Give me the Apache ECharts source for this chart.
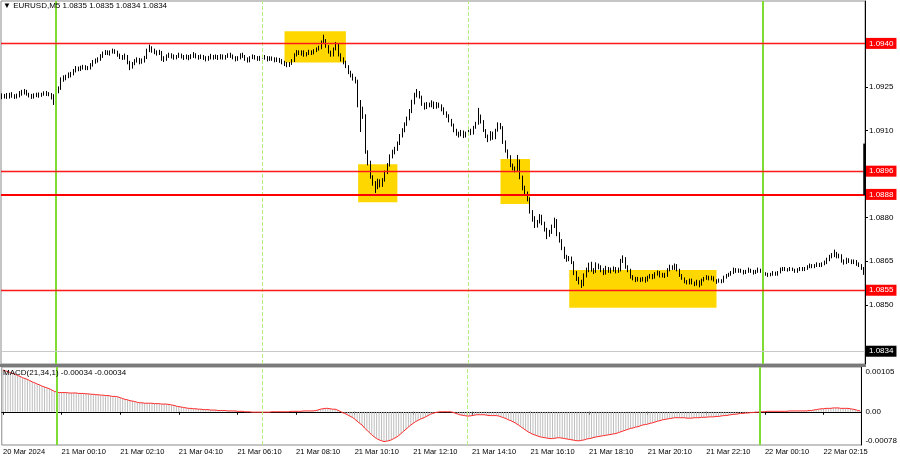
<!DOCTYPE html>
<html><head><meta charset="utf-8">
<script src="https://cdn.jsdelivr.net/npm/echarts@6/dist/echarts.min.js"></script>
<style>html,body{margin:0;padding:0;background:#fff}#c{width:900px;height:460px}</style>
</head><body><div id="c"></div>
<script>
const symbolTitle = '\u25BC EURUSD,M5 1.0835 1.0835 1.0834 1.0834';
const macdTitle = 'MACD(21,34,1) -0.00034 -0.00034';
const firstOpen = 1.0922;
const closes = [
1.09215,1.0922,1.09215,1.09225,1.0922,1.09215,1.0922,1.09225,1.0923,1.09235,1.09225,1.0922,1.09215,1.0922,1.09225,1.0922,1.09225,1.0923,1.09225,1.09225,1.09215,1.09205,
1.09235,1.09245,1.09275,1.0928,1.09285,1.0929,1.09295,1.09305,
1.09315,1.0931,1.09315,1.0932,1.09315,1.09315,1.09325,
1.09335,1.0934,1.09345,1.09355,
1.09365,1.0937,1.09365,1.0937,1.09375,1.0937,
1.0936,1.09355,1.0935,1.09355,
1.09335,1.0932,1.0933,1.0934,
1.09345,1.09335,1.0934,1.0935,
1.09375,1.09385,
1.09375,1.0937,1.09365,1.0937,
1.0935,1.09345,
1.09355,1.0936,1.09355,1.0935,1.09355,1.0936,1.09355,1.0935,1.09355,1.0935,1.09355,1.0936,1.09355,1.0935,1.09355,1.0935,1.09345,1.0935,1.09355,1.0935,1.09355,1.0935,1.09355,
1.0935,1.09355,1.0936,1.09355,1.0935,1.09345,1.0935,1.0936,1.09355,1.09345,1.0934,1.0935,1.09355,1.0935,1.09345,1.0935,1.09355,1.0935,1.09345,1.0935,1.09345,1.0934,1.09345,1.0934,1.09335,
1.0933,1.09325,1.0933,1.0934,
1.0936,1.0937,1.09365,1.0937,1.0936,1.09365,1.0937,1.09365,1.09375,1.0938,1.09385,1.09405,1.0941,1.0939,1.0937,1.0936,1.0938,1.09395,1.0936,1.09345,1.09335,1.0932,
1.093,1.0929,1.0928,1.0927,
1.0919,1.09175,1.0915,1.09025,1.0899,1.0894,1.0892,1.089,1.08925,1.0891,1.0893,1.08955,1.0898,1.0901,1.09025,1.09035,1.09055,1.0908,1.091,1.0912,1.0914,1.09165,1.09195,
1.0922,1.0923,1.09215,1.0919,1.0918,1.0919,1.09185,1.09195,1.0918,1.0919,1.09185,1.09175,1.0916,1.0915,1.09135,1.0912,
1.091,1.0909,1.09085,1.09095,1.0908,1.0909,1.091,1.0909,1.0911,1.09125,1.0915,1.0913,1.091,1.0908,1.0907,1.0909,1.09075,1.091,1.0912,1.0911,
1.0906,1.0903,1.0901,1.0898,1.0897,1.08965,1.08995,1.0894,1.089,1.08885,1.08865,1.0882,1.088,1.0877,1.08785,1.08805,1.0878,1.0876,1.0874,1.0875,1.0877,1.0879,1.08745,
1.0872,1.08695,1.08665,1.08655,1.0866,1.08645,1.0861,1.0859,1.0858,1.0857,1.086,
1.0862,1.08635,1.0862,1.08615,1.08635,1.0863,1.0862,1.0861,1.08625,1.08615,1.0862,1.08625,1.08615,1.0862,1.0865,1.0866,1.0863,1.0862,
1.08595,1.0859,1.08585,1.0859,1.08585,1.0859,1.08585,1.08595,1.086,1.08595,1.08605,1.0861,1.086,1.08605,1.086,
1.0862,1.0863,1.08625,1.08635,1.0862,1.086,1.0859,1.0858,1.08575,1.08585,1.08575,1.0857,1.0858,1.0857,1.08585,1.0859,1.08595,1.0859,1.08595,1.08585,1.0858,1.08585,1.0858,1.08595,1.086,1.08605,1.0861,
1.0862,1.08615,1.0862,1.08615,1.0861,1.08615,1.0862,1.08615,1.0861,1.08615,1.0862,1.08615,1.08605,1.08605,1.086,1.08605,1.0861,1.08605,1.0861,
1.0862,1.08625,1.0862,1.0862,1.08625,1.0862,1.08615,1.0862,1.08625,1.0862,1.08625,1.0863,1.08635,1.0863,1.08635,1.0864,1.08635,1.0864,1.08645,
1.08655,1.08665,1.0867,1.08675,1.08665,1.0867,1.0865,1.08645,1.08655,1.0865,1.08645,1.0865,1.0864,1.08635,1.08625,1.0861
];
const highs = [
1.09228,1.09226,1.09229,1.0923,1.09232,1.09225,1.09227,1.09236,1.0924,1.09243,1.0924,1.0923,1.09226,1.09228,1.0923,1.09231,1.0923,1.09235,1.09236,1.09232,1.09229,1.09225,
1.09242,1.09252,1.09283,1.0929,1.09292,1.093,1.09302,1.09312,
1.09322,1.0932,1.09323,1.09326,1.09325,1.09322,1.09332,
1.09343,1.09348,1.09352,1.09363,
1.09372,1.09377,1.09376,1.09376,1.09382,1.0938,
1.09375,1.09365,1.0936,1.09365,
1.0936,1.0934,1.09336,1.09346,
1.09352,1.0935,1.09348,1.09357,
1.09382,1.09396,
1.0939,1.09382,1.09376,1.09378,
1.09374,1.09356,
1.09362,1.09368,1.09366,1.09362,1.0936,1.09368,1.09365,1.0936,1.09362,1.0936,1.09363,1.0937,1.09366,1.0936,1.09362,1.0936,1.09356,1.09357,1.09364,1.0936,1.09362,1.0936,1.09363,
1.09362,1.0936,1.09366,1.09368,1.09362,1.09356,1.09356,1.09366,1.09368,1.0936,1.09352,1.09356,1.09362,1.0936,1.09356,1.09357,1.09362,1.0936,1.09356,1.09356,1.09355,1.09352,1.09352,1.0935,1.09346,
1.0934,1.09336,1.09336,1.09346,
1.09366,1.09377,1.09376,1.09376,1.09376,1.0937,1.09378,1.09376,1.0938,1.09386,1.09392,1.0941,1.0943,1.09415,1.09394,1.09375,1.09386,1.09405,1.094,1.09366,1.09352,1.0934,
1.09325,1.09306,1.09296,1.09285,
1.09275,1.09205,1.09182,1.09156,1.09032,1.08996,1.08946,1.08926,1.08934,1.08932,1.08936,1.08962,1.08988,1.09018,1.09034,1.09044,1.09062,1.09088,1.09108,1.09128,1.09148,1.09174,1.09206,
1.0923,1.09243,1.09236,1.0922,1.09196,1.09198,1.09196,1.09204,1.092,1.09198,1.09196,1.0919,1.0918,1.09166,1.09156,1.0914,
1.09124,1.09106,1.09096,1.09102,1.091,1.09096,1.09108,1.09106,1.09116,1.0913,1.09178,1.09155,1.09136,1.09105,1.09086,1.09098,1.09096,1.09106,1.09128,1.09126,
1.09115,1.09066,1.09035,1.09015,1.08986,1.08976,1.09016,1.09,1.08945,1.0891,1.0889,1.0887,1.08826,1.08805,1.08792,1.08812,1.0881,1.08786,1.08765,1.08758,1.08776,1.088,1.08795,
1.0875,1.08726,1.087,1.08672,1.08668,1.08666,1.0865,1.08616,1.08596,1.08586,1.08608,
1.08628,1.08645,1.08648,1.08626,1.08646,1.08642,1.08636,1.08626,1.08634,1.0863,1.08628,1.08632,1.0863,1.08628,1.08658,1.0867,1.08664,1.08636,
1.08624,1.08602,1.08596,1.08596,1.08594,1.08596,1.08596,1.086,1.08606,1.08606,1.08612,1.08618,1.08616,1.0861,1.0861,
1.08626,1.08638,1.08636,1.08642,1.0864,1.08624,1.08606,1.08594,1.08585,1.0859,1.0859,1.0858,1.08586,1.08584,1.0859,1.08596,1.08602,1.086,1.086,1.08598,1.08588,1.0859,1.08588,1.086,1.08606,1.0861,1.08616,
1.08628,1.08626,1.08625,1.08624,1.0862,1.0862,1.08628,1.08624,1.0862,1.0862,1.08628,1.08624,1.0862,1.08612,1.0861,1.0861,1.08616,1.08614,1.08616,
1.08628,1.0863,1.0863,1.08626,1.0863,1.08628,1.08624,1.08626,1.0863,1.0863,1.0863,1.08636,1.08642,1.0864,1.0864,1.08646,1.08644,1.08646,1.08652,
1.08662,1.08672,1.08678,1.0869,1.08682,1.08676,1.08674,1.08656,1.08662,1.0866,1.08656,1.08656,1.08654,1.08646,1.0864,1.0863
];
const lows = [
1.09208,1.0921,1.09209,1.0921,1.09213,1.09209,1.0921,1.09214,1.0922,1.09224,1.0922,1.09214,1.09209,1.0921,1.09215,1.09213,1.09216,1.0922,1.09219,1.09218,1.09207,1.09188,
1.092,1.09228,1.0924,1.09268,1.09273,1.0928,1.09283,1.0929,
1.093,1.09304,1.09305,1.0931,1.09308,1.09308,1.0931,
1.0932,1.0933,1.09334,1.0934,
1.0935,1.0936,1.0936,1.09358,1.09365,1.09364,
1.09354,1.09346,1.09343,1.09344,
1.09328,1.09308,1.09313,1.09325,
1.09334,1.09328,1.0933,1.09334,
1.09346,1.0937,
1.09368,1.09363,1.09358,1.0936,
1.0934,1.09336,
1.0934,1.0935,1.09348,1.09344,1.09345,1.0935,1.09348,1.09343,1.09345,1.09342,1.09346,1.0935,1.09348,1.09344,1.09346,1.09343,1.09338,1.0934,1.09345,1.09344,1.09346,1.09343,1.09345,
1.09344,1.09344,1.0935,1.0935,1.09345,1.09338,1.0934,1.09345,1.0935,1.0934,1.09334,1.09335,1.09346,1.09344,1.0934,1.0934,1.09348,1.09344,1.09338,1.0934,1.0934,1.09335,1.09336,1.09333,1.09328,
1.09322,1.09318,1.09319,1.09326,
1.09336,1.09355,1.0936,1.09358,1.09354,1.09355,1.0936,1.0936,1.09362,1.0937,1.09375,1.0938,1.09398,1.09385,1.09365,1.09354,1.09355,1.09376,1.09355,1.09338,1.09328,1.09315,
1.09294,1.09283,1.09272,1.09262,
1.0918,1.09095,1.0914,1.0902,1.0898,1.08934,1.0891,1.08885,1.08898,1.08904,1.08906,1.08924,1.0895,1.08976,1.09004,1.09018,1.0903,1.0905,1.09076,1.09094,1.09116,1.09135,1.0916,
1.0919,1.09214,1.0921,1.09185,1.09172,1.09174,1.0918,1.0918,1.09174,1.09175,1.09178,1.09166,1.09154,1.09144,1.09128,1.09114,
1.09094,1.09082,1.09076,1.0908,1.09074,1.09076,1.09085,1.09084,1.09086,1.09106,1.0912,1.09124,1.09095,1.09074,1.0906,1.09065,1.09068,1.0907,1.09096,1.09104,
1.09054,1.09024,1.09003,1.08974,1.08963,1.08956,1.0896,1.08932,1.08894,1.08878,1.08856,1.08814,1.08786,1.08764,1.08766,1.0878,1.08774,1.08752,1.08726,1.08734,1.08744,1.08764,1.08736,
1.08714,1.08688,1.08658,1.08648,1.0865,1.0864,1.08602,1.08582,1.0857,1.08558,1.08564,
1.08594,1.08612,1.08614,1.08606,1.0861,1.08622,1.08612,1.08602,1.08604,1.0861,1.08608,1.08614,1.08608,1.0861,1.08615,1.08644,1.08624,1.08612,
1.0859,1.08584,1.08578,1.0858,1.08578,1.0858,1.08576,1.0858,1.0859,1.08588,1.0859,1.086,1.08594,1.08594,1.08592,
1.08596,1.08615,1.0862,1.0862,1.08615,1.08596,1.08586,1.08574,1.0857,1.0857,1.0857,1.08564,1.08566,1.0856,1.08566,1.0858,1.08586,1.08584,1.08584,1.0858,1.08572,1.08576,1.08574,1.08576,1.0859,1.08596,1.086,
1.08606,1.0861,1.0861,1.0861,1.08604,1.08606,1.0861,1.0861,1.08604,1.08606,1.0861,1.0861,1.086,1.086,1.08596,1.08598,1.086,1.086,1.086,
1.08608,1.08616,1.08616,1.08614,1.08616,1.08616,1.0861,1.0861,1.08616,1.08616,1.08616,1.0862,1.08626,1.08626,1.08626,1.0863,1.0863,1.0863,1.08636,
1.0864,1.0865,1.0866,1.08664,1.0866,1.0866,1.08645,1.08638,1.0864,1.08644,1.0864,1.0864,1.08634,1.0863,1.0862,1.08603
];
const macd = [
0.00098,0.00096,0.00094,0.00092,0.0009,0.00088,0.00085,0.00083,0.0008,0.00078,0.00076,0.00073,0.0007,0.00068,0.00065,0.00063,0.0006,0.00058,0.00056,0.00054,0.00051,0.00048,0.00046,
0.00045,0.00045,0.00045,0.00045,0.00044,0.00044,0.00044,0.00044,0.00043,0.00043,0.00043,
0.00042,0.00042,0.00041,0.00041,0.0004,0.0004,0.00039,0.00039,0.00038,0.00038,0.00037,0.00036,0.00036,0.00035,
0.00033,0.00031,0.00029,0.00028,0.00026,0.00025,0.00024,0.00022,0.00021,
0.00021,0.0002,0.0002,0.0002,0.0002,0.00019,0.00019,0.00019,0.00018,0.00018,0.00018,
0.00017,0.00016,0.00015,0.00013,0.00012,0.00011,0.0001,0.00009,0.00008,
0.00008,0.00007,0.00007,0.00006,0.00006,0.00005,0.00005,0.00005,0.00004,0.00004,0.00004,0.00003,0.00003,0.00003,0.00003,0.00002,0.00002,0.00002,
0.00002,0.00001,0.00001,0.00001,0,0,0,-0.00001,-0.00001,-0.00001,-0.00001,
-0.00001,-0.00001,-0.00001,-0.00001,0,0,0,0,0,0,0,
0,0.00001,0.00001,0.00001,0.00001,0.00001,0.00002,0.00002,0.00002,0.00002,0.00002,
0.00003,0.00004,0.00006,0.00007,0.00008,
0.00008,0.00007,0.00006,0.00006,0.00004,0.00001,
-0.00002,-0.00004,-0.00007,-0.0001,-0.00013,-0.00017,-0.00022,-0.00027,
-0.00031,-0.00038,-0.00043,-0.00049,-0.00054,-0.00059,-0.00063,-0.00066,-0.00068,-0.0007,
-0.00069,-0.00068,-0.00066,-0.00063,-0.0006,-0.00056,
-0.00051,-0.00046,-0.00041,-0.00036,-0.00031,-0.00027,
-0.00023,-0.0002,-0.00017,-0.00015,-0.00012,-0.00009,-0.00006,-0.00004,-0.00002,
-0.00001,0,0,0,0,0,
-0.00001,-0.00003,-0.00005,-0.00007,-0.00008,-0.00009,-0.0001,
-0.0001,-0.00009,-0.00008,-0.00007,-0.00007,-0.00007,-0.00007,-0.00008,-0.00009,-0.00009,-0.00009,-0.00009,-0.0001,
-0.00012,-0.00014,-0.00016,-0.00019,-0.00021,-0.00024,-0.00027,
-0.00031,-0.00035,-0.00039,-0.00043,-0.00047,-0.0005,-0.00053,
-0.00055,-0.00057,-0.00059,-0.0006,-0.00061,-0.00062,-0.00063,
-0.00063,-0.00062,-0.00061,-0.00061,-0.00062,-0.00063,-0.00064,-0.00065,-0.00066,-0.00067,-0.00068,-0.00068,
-0.00067,-0.00066,-0.00064,-0.00063,-0.00062,-0.0006,-0.00059,
-0.00058,-0.00057,-0.00056,-0.00055,-0.00054,-0.00053,-0.00052,-0.00051,
-0.00049,-0.00047,-0.00045,-0.00043,-0.00041,-0.00039,-0.00038,
-0.00036,-0.00035,-0.00033,-0.00031,-0.0003,-0.00029,-0.00027,
-0.00026,-0.00024,-0.00022,-0.00021,-0.00019,-0.00018,-0.00017,-0.00016,-0.00015,-0.00014,
-0.00014,-0.00014,-0.00014,-0.00014,-0.00015,-0.00015,-0.00015,-0.00014,-0.00014,-0.00014,
-0.00013,-0.00013,-0.00013,-0.00012,-0.00012,-0.00012,-0.00011,-0.00011,-0.0001,
-0.00009,-0.00009,-0.00008,-0.00007,-0.00006,-0.00006,-0.00005,-0.00004,
-0.00004,-0.00003,-0.00003,-0.00002,-0.00002,-0.00001,-0.00001,0,
0,0,0.00001,0.00001,0.00001,0.00001,0.00001,0.00001,0.00001,0.00001,0.00001,0.00002,0.00002,0.00002,0.00002,0.00002,0.00002,0.00002,0.00002,
0.00003,0.00003,0.00004,0.00005,0.00006,0.00007,0.00007,0.00008,
0.00008,0.00008,0.00009,0.00009,0.00009,0.00008,0.00008,0.00008,0.00008,0.00007,0.00006,0.00005,0.00003,0.00002
];
const timeLabels = ['20 Mar 2024','21 Mar 00:10','21 Mar 02:10','21 Mar 04:10','21 Mar 06:10','21 Mar 08:10','21 Mar 10:10','21 Mar 12:10','21 Mar 14:10','21 Mar 16:10','21 Mar 18:10','21 Mar 20:10','21 Mar 22:10','22 Mar 00:10','22 Mar 02:15'];
const barsPerLabel = 24;
const priceTicks = [1.0940,1.0925,1.0910,1.0895,1.0880,1.0865,1.0850,1.0835];
const macdTicks = [0.00105, 0, -0.00078];
const levels = [1.0940, 1.0896, 1.0855];
const keyLevel = 1.0888;
const bidPrice = 1.0834;
// [first bar, last bar, top price, bottom price]
const zones = [[115,140,1.09442,1.09334],[145,161,1.08984,1.08853],[203,215,1.09002,1.08847],[231,291,1.0862,1.0849]];
const daySeparators = [22, 310];
const sessionMarks = [106, 190];
// partly drawn bar at the right border: [bar, top price, bottom price]
const edgeBar = [351, 1.09055, 1.08878];

const FONT = '"Liberation Sans", Arial, sans-serif';
const cats = closes.map((_, i) => String(i));
const candles = closes.map((c, i) => [i ? closes[i - 1] : firstOpen, c, lows[i], highs[i]]);
const showLabel = (i) => i % barsPerLabel === 0;

const priceLabel = (bg) => ({
  show: true, position: 'end', distance: 1,
  formatter: (p) => Number(p.value).toFixed(4),
  backgroundColor: bg, color: '#fff', fontSize: 8, fontFamily: FONT,
  padding: [2, 3, 1, 3]
});
const vLines = () => daySeparators.map(k => ({ xAxis: k, lineStyle: { color: '#7fdc35', width: 2, type: 'solid' } }))
  .concat(sessionMarks.map(k => ({ xAxis: k, lineStyle: { color: '#b6ee80', width: 1, type: [4, 2] } })));
const levelLines = levels.map(v => ({ yAxis: v, lineStyle: { color: '#ff1a1a', width: 1.3, type: 'solid' }, label: priceLabel('#ff0000') }))
  .concat([{ yAxis: keyLevel, lineStyle: { color: '#ff0000', width: 2, type: 'solid' }, label: priceLabel('#ff0000') },
           { yAxis: bidPrice, lineStyle: { color: '#c8c8c8', width: 1, type: 'solid' }, label: priceLabel('#000000') },
           [{ coord: [cats[edgeBar[0]], edgeBar[1]], lineStyle: { color: '#000', width: 2.5, type: 'solid' }, label: { show: false } },
            { coord: [cats[edgeBar[0]], edgeBar[2]] }]]);

const chart = echarts.init(document.getElementById('c'), null, { renderer: 'canvas' });
chart.setOption({
  animation: false,
  backgroundColor: '#ffffff',
  textStyle: { fontFamily: FONT },
  title: [
    { text: symbolTitle, left: 3, top: 2, padding: 0, textStyle: { fontSize: 8, fontWeight: 'normal', color: '#000', fontFamily: FONT } },
    { text: macdTitle, left: 3, top: 369, padding: 0, textStyle: { fontSize: 8, fontWeight: 'normal', color: '#000', fontFamily: FONT } }
  ],
  graphic: [
    { type: 'rect', shape: { x: 0, y: 364, width: 866, height: 3 }, style: { fill: '#7a7a7a' }, z: 10 }
  ],
  grid: [
    { left: 1, right: 35, top: 1, height: 363, show: true, borderColor: '#8a8a8a', borderWidth: 1 },
    { left: 1, right: 35, top: 367, bottom: 15, show: true, borderColor: '#8a8a8a', borderWidth: 1 }
  ],
  xAxis: [
    { type: 'category', gridIndex: 0, data: cats, boundaryGap: true,
      axisLine: { show: false }, axisTick: { show: false }, axisLabel: { show: false }, splitLine: { show: false } },
    { type: 'category', gridIndex: 1, data: cats, boundaryGap: true,
      axisLine: { show: true, lineStyle: { color: '#000' } },
      axisTick: { show: true, alignWithLabel: true, interval: showLabel, length: 3, lineStyle: { color: '#000' } },
      axisLabel: { interval: showLabel, formatter: (v, i) => timeLabels[i / barsPerLabel], align: 'left',
        fontSize: 7.5, color: '#000', margin: 3, fontFamily: FONT },
      splitLine: { show: false } }
  ],
  yAxis: [
    { type: 'value', gridIndex: 0, position: 'right', min: 1.08296, max: 1.09546,
      axisLine: { show: true, lineStyle: { color: '#000' } },
      axisTick: { show: true, customValues: priceTicks, length: 3, lineStyle: { color: '#000' } },
      axisLabel: { customValues: priceTicks, formatter: (v) => v.toFixed(4), color: '#000', fontSize: 8, margin: 4,
        padding: [5, 0, 0, 0], fontFamily: FONT },
      splitLine: { show: false } },
    { type: 'value', gridIndex: 1, position: 'right', min: -0.00078, max: 0.00105,
      axisLine: { show: true, lineStyle: { color: '#000' } },
      axisTick: { show: false },
      axisLabel: { customValues: macdTicks, margin: 4, fontSize: 8, color: '#000', fontFamily: FONT,
        formatter: (v) => v === 0 ? '0.00' : (v > 0 ? '{t|' + v.toFixed(5) + '}' : '{b|' + v.toFixed(5) + '}'),
        rich: { t: { padding: [10, 0, 0, 0], fontSize: 8, color: '#000', fontFamily: FONT },
                b: { padding: [0, 0, 9, 0], fontSize: 8, color: '#000', fontFamily: FONT } } },
      splitLine: { show: false } }
  ],
  series: [
    { name: 'zones', type: 'line', xAxisIndex: 0, yAxisIndex: 0, data: closes, z: 1, silent: true,
      symbol: 'none', lineStyle: { opacity: 0 }, itemStyle: { opacity: 0 },
      markArea: { silent: true, itemStyle: { color: '#ffd700' },
        data: zones.map(zn => [{ xAxis: zn[0], yAxis: zn[2] }, { xAxis: zn[1], yAxis: zn[3] }]) } },
    { name: 'sessions', type: 'line', xAxisIndex: 0, yAxisIndex: 0, data: closes, z: 2, silent: true,
      symbol: 'none', lineStyle: { opacity: 0 }, itemStyle: { opacity: 0 },
      markLine: { silent: true, symbol: 'none', label: { show: false }, data: vLines() } },
    { name: 'EURUSD', type: 'candlestick', xAxisIndex: 0, yAxisIndex: 0, data: candles, z: 3,
      barWidth: 1.2,
      itemStyle: { color: '#ffffff', color0: '#000000', borderColor: '#000000', borderColor0: '#000000', borderWidth: 1 } },
    { name: 'levels', type: 'line', xAxisIndex: 0, yAxisIndex: 0, data: closes, z: 5, silent: true,
      symbol: 'none', lineStyle: { opacity: 0 }, itemStyle: { opacity: 0 },
      markLine: { silent: true, symbol: 'none', precision: 5, data: levelLines } },
    { name: 'MACD', type: 'bar', xAxisIndex: 1, yAxisIndex: 1, data: macd, barWidth: 1, z: 2,
      itemStyle: { color: '#bdbdbd' } },
    { name: 'Signal', type: 'line', xAxisIndex: 1, yAxisIndex: 1, data: macd, symbol: 'none', z: 3,
      lineStyle: { color: '#ff2a2a', width: 1 } },
    { name: 'sessions2', type: 'line', xAxisIndex: 1, yAxisIndex: 1, data: macd, z: 4, silent: true,
      symbol: 'none', lineStyle: { opacity: 0 }, itemStyle: { opacity: 0 },
      markLine: { silent: true, symbol: 'none', label: { show: false }, data: vLines() } }
  ]
});
</script>
</body></html>
